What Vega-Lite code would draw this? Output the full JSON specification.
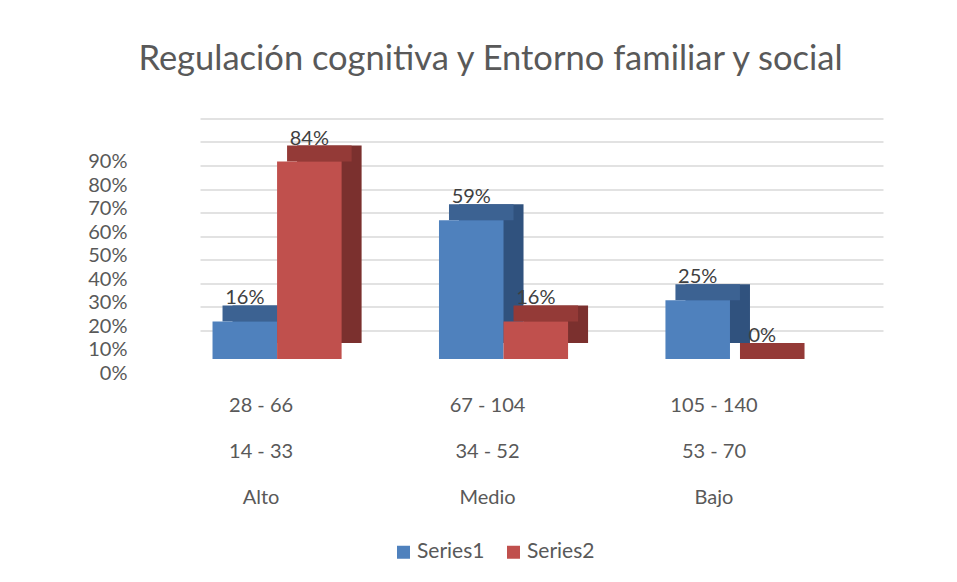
{
  "$schema": "https://vega.github.io/schema/vega-lite/v6.json",
  "width": 683,
  "height": 211.5,
  "autosize": "none",
  "padding": {"left": 200, "top": 147.5, "right": 74, "bottom": 223},
  "background": "white",
  "title": {
    "text": "Regulación cognitiva y Entorno familiar y social",
    "font": "Lato",
    "fontSize": 34.5,
    "fontWeight": "normal",
    "color": "#595959",
    "anchor": "middle",
    "frame": "group",
    "dx": -51,
    "offset": 51
  },
  "config": {
    "view": {"stroke": null},
    "font": "Lato"
  },
  "data": {
    "values": [
      {"cat": "28 - 66|14 - 33|Alto", "series": "Series1", "value": 0.16},
      {"cat": "28 - 66|14 - 33|Alto", "series": "Series2", "value": 0.84},
      {"cat": "67 - 104|34 - 52|Medio", "series": "Series1", "value": 0.59},
      {"cat": "67 - 104|34 - 52|Medio", "series": "Series2", "value": 0.16},
      {"cat": "105 - 140|53 - 70|Bajo", "series": "Series1", "value": 0.25},
      {"cat": "105 - 140|53 - 70|Bajo", "series": "Series2", "value": 0.0}
    ]
  },
  "encoding": {
    "y": {
      "field": "value", "type": "quantitative",
      "scale": {"domain": [0, 0.9], "nice": false, "zero": true},
      "axis": {
        "title": null, "domain": false, "ticks": false, "tickSize": 0,
        "values": [0, 0.1, 0.2, 0.3, 0.4, 0.5, 0.6, 0.7, 0.8, 0.9],
        "format": ".0%", "grid": true, "gridColor": "#D9D9D9", "gridWidth": 1.5,
        "tickOffset": -29, "labelOffset": 43, "labelPadding": 73, "labelOverlap": false,
        "labelFont": "Lato", "labelFontSize": 20, "labelColor": "#595959"
      }
    }
  },
  "layer": [
    {
      "transform": [{"filter": "datum.series === 'Series1'"}],
      "mark": {"type": "bar", "color": "#30527E", "xOffset": 20, "x2Offset": 20, "yOffset": -16, "y2Offset": -16},
      "encoding": {
        "x": {
          "field": "cat", "type": "nominal", "sort": null, "bandPosition": 0,
          "scale": {"type": "band", "paddingInner": 0.43, "paddingOuter": 0.223, "align": 0.124},
          "axis": {
            "title": null, "domain": false, "ticks": false, "tickSize": 0, "grid": false,
            "labelOffset": -16, "labelPadding": 36, "labelAngle": 0,
            "labelExpr": "split(datum.label, '|')",
            "labelFont": "Lato", "labelFontSize": 20, "labelColor": "#595959",
            "labelLineHeight": 46, "labelBaseline": "top", "labelLimit": 0
          }
        },
        "x2": {"field": "cat", "bandPosition": 0.5},
        "y2": {"datum": 0}
      }
    },
    {
      "transform": [{"filter": "datum.series === 'Series1'"}],
      "mark": {"type": "bar", "color": "#3C6292", "xOffset": 10, "x2Offset": 10, "yOffset": -16},
      "encoding": {
        "x": {"field": "cat", "type": "nominal", "sort": null, "bandPosition": 0},
        "x2": {"field": "cat", "bandPosition": 0.5},
        "y2": {"field": "value"}
      }
    },
    {
      "transform": [{"filter": "datum.series === 'Series1'"}],
      "mark": {"type": "bar"},
      "encoding": {
        "x": {"field": "cat", "type": "nominal", "sort": null, "bandPosition": 0},
        "x2": {"field": "cat", "bandPosition": 0.5},
        "y2": {"datum": 0},
        "color": {
          "field": "series", "type": "nominal",
          "scale": {"domain": ["Series1", "Series2"], "range": ["#4F81BD", "#C0504D"]},
          "legend": {
            "title": null, "orient": "none", "legendX": 193, "legendY": 394,
            "direction": "horizontal", "symbolType": "square", "symbolSize": 169,
            "symbolStrokeWidth": 0, "labelFont": "Lato", "labelFontSize": 21,
            "labelColor": "#595959", "labelOffset": 3, "columnPadding": 18, "padding": 0
          }
        }
      }
    },
    {
      "transform": [{"filter": "datum.series === 'Series2'"}],
      "mark": {"type": "bar", "color": "#7B302E", "xOffset": 20, "x2Offset": 20, "yOffset": -16, "y2Offset": -16},
      "encoding": {
        "x": {"field": "cat", "type": "nominal", "sort": null, "bandPosition": 0.5},
        "x2": {"field": "cat", "bandPosition": 1},
        "y2": {"datum": 0}
      }
    },
    {
      "transform": [{"filter": "datum.series === 'Series2'"}],
      "mark": {"type": "bar", "color": "#943A37", "xOffset": 10, "x2Offset": 10, "yOffset": -16},
      "encoding": {
        "x": {"field": "cat", "type": "nominal", "sort": null, "bandPosition": 0.5},
        "x2": {"field": "cat", "bandPosition": 1},
        "y2": {"field": "value"}
      }
    },
    {
      "transform": [{"filter": "datum.series === 'Series2'"}],
      "mark": {"type": "bar"},
      "encoding": {
        "x": {"field": "cat", "type": "nominal", "sort": null, "bandPosition": 0.5},
        "x2": {"field": "cat", "bandPosition": 1},
        "y2": {"datum": 0},
        "color": {"field": "series", "type": "nominal"}
      }
    },
    {
      "mark": {"type": "text", "baseline": "alphabetic", "dy": -17, "font": "Lato", "fontSize": 20, "color": "#404040"},
      "encoding": {
        "x": {"field": "cat", "type": "nominal", "sort": null},
        "xOffset": {"field": "series", "type": "nominal", "scale": {"domain": ["Series1", "Series2"]}},
        "text": {"field": "value", "type": "quantitative", "format": ".0%"}
      }
    }
  ]
}
